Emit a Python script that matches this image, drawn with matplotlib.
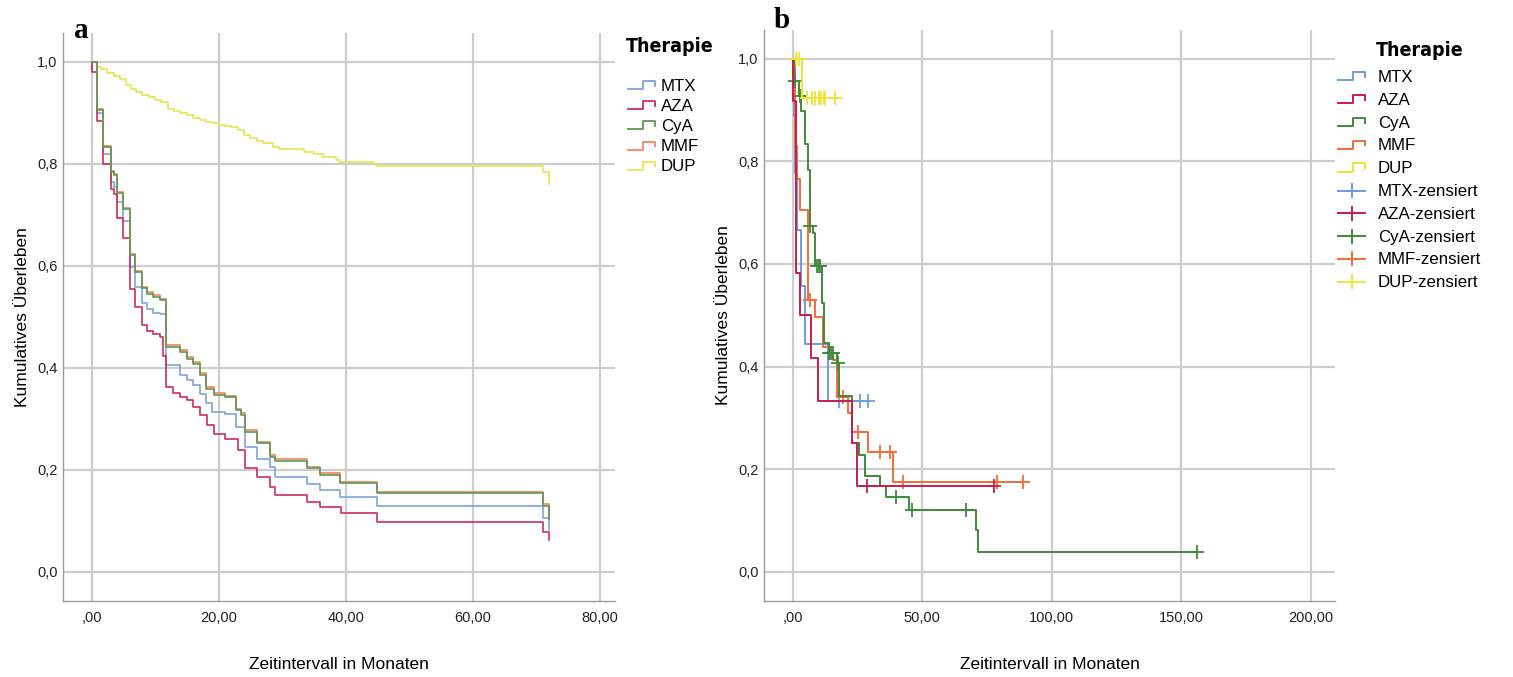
import numpy as np
import matplotlib.pyplot as plt
from matplotlib.legend_handler import HandlerBase
from matplotlib.lines import Line2D

plt.rcParams['font.family'] = ['Liberation Sans', 'DejaVu Sans']

# ---- Panel a: Kaplan-Meier, alle Therapien (Monate, kumulatives Überleben) ----
a_mmf_t = [0, 0.9, 1.85, 3.0, 3.5, 4.0, 4.9, 6.0, 6.8, 7.9, 8.7, 9.7, 10.8, 11.8, 13.9, 15.0, 16.0,
           17.0, 18.0, 19.2, 21.0, 22.8, 23.5, 24.1, 26.0, 28.1, 28.9, 33.9, 36.0, 39.1, 45.0, 71.0, 72.0]
a_mmf_s = [1.0, 0.908, 0.835, 0.786, 0.780, 0.745, 0.713, 0.623, 0.590, 0.558, 0.548, 0.542, 0.535, 0.444,
           0.434, 0.421, 0.411, 0.389, 0.362, 0.350, 0.345, 0.320, 0.311, 0.278, 0.255, 0.229, 0.221,
           0.206, 0.193, 0.177, 0.157, 0.133, 0.108]
a_cya_t = [0, 0.9, 1.85, 3.0, 3.5, 4.0, 4.9, 6.0, 6.8, 7.9, 8.7, 9.7, 10.8, 11.8, 13.9, 15.0, 16.0,
           17.0, 18.0, 19.2, 21.0, 22.8, 23.5, 24.1, 26.0, 28.1, 28.9, 33.9, 36.0, 39.1, 45.0, 71.0, 72.0]
a_cya_s = [1.0, 0.906, 0.833, 0.784, 0.778, 0.743, 0.711, 0.621, 0.588, 0.556, 0.545, 0.539, 0.532, 0.441,
           0.431, 0.418, 0.408, 0.386, 0.359, 0.347, 0.342, 0.317, 0.308, 0.275, 0.252, 0.226, 0.218,
           0.203, 0.190, 0.174, 0.154, 0.130, 0.104]
a_mtx_t = [0, 0.9, 1.85, 3.0, 3.5, 4.0, 4.9, 6.0, 6.8, 7.9, 8.7, 9.7, 10.8, 11.8, 13.9, 15.0, 16.0,
           17.0, 18.0, 18.9, 21.0, 22.8, 24.1, 26.0, 28.1, 28.9, 33.9, 36.0, 39.1, 45.0, 71.0, 72.0]
a_mtx_s = [1.0, 0.899, 0.819, 0.765, 0.755, 0.724, 0.688, 0.597, 0.558, 0.526, 0.516, 0.508, 0.505, 0.405,
           0.386, 0.376, 0.366, 0.349, 0.330, 0.314, 0.310, 0.284, 0.245, 0.222, 0.206, 0.186, 0.173,
           0.160, 0.147, 0.129, 0.105, 0.082]
a_aza_t = [0, 0.05, 0.9, 1.85, 3.0, 3.5, 4.0, 4.9, 6.0, 6.8, 7.9, 8.7, 9.7, 10.8, 11.2, 11.8, 12.9, 13.9,
           15.0, 16.0, 17.0, 18.1, 19.2, 21.0, 23.1, 24.1, 26.0, 28.1, 28.9, 33.9, 36.0, 39.2, 45.0, 71.0, 72.0]
a_aza_s = [1.0, 0.979, 0.884, 0.799, 0.750, 0.740, 0.693, 0.654, 0.555, 0.519, 0.483, 0.473, 0.467, 0.460,
           0.424, 0.362, 0.350, 0.343, 0.336, 0.323, 0.307, 0.288, 0.271, 0.261, 0.239, 0.203, 0.186,
           0.167, 0.151, 0.137, 0.128, 0.115, 0.098, 0.079, 0.063]
a_dup_t = [0, 0.9, 1.5, 2.5, 3.5, 4.5, 5.5, 6.2, 7.0, 8.0, 9.0, 10.0, 11.0, 12.0, 13.0, 14.0, 15.0, 16.0,
           17.0, 18.0, 19.0, 20.0, 21.0, 22.0, 23.0, 24.0, 25.0, 26.0, 27.0, 28.5, 29.5, 33.5, 35.0, 36.5,
           38.5, 39.0, 44.5, 45.0, 71.0, 72.0]
a_dup_s = [1.0, 0.990, 0.985, 0.978, 0.972, 0.965, 0.955, 0.946, 0.940, 0.935, 0.930, 0.925, 0.920, 0.907,
           0.903, 0.899, 0.895, 0.890, 0.885, 0.882, 0.879, 0.876, 0.874, 0.871, 0.866, 0.857, 0.851,
           0.845, 0.840, 0.833, 0.829, 0.823, 0.818, 0.813, 0.808, 0.803, 0.800, 0.796, 0.784, 0.760]

# ---- Panel b: Kaplan-Meier mit zensierten Fällen ----
b_mtx_t = [0, 0.3, 1.0, 1.7, 3.2, 4.6, 13.7]
b_mtx_s = [1.0, 0.889, 0.778, 0.667, 0.556, 0.444, 0.333]
b_mtx_c = [18.0, 26.0, 29.2]
b_mtx_end = 29.5

b_aza_t = [0, 0.1, 1.3, 2.8, 6.9, 9.9, 22.8, 24.7]
b_aza_s = [1.0, 0.917, 0.583, 0.500, 0.417, 0.333, 0.250, 0.167]
b_aza_c = [28.8, 77.5]
b_aza_end = 77.5

b_cya_t = [0, 0.3, 2.5, 3.3, 4.6, 5.9, 6.5, 7.9, 8.5, 11.2, 12.1, 13.8, 17.2, 17.7, 22.8, 25.7, 27.9,
           33.7, 35.8, 44.8, 70.8, 71.7]
b_cya_s = [1.0, 0.957, 0.927, 0.898, 0.833, 0.784, 0.674, 0.661, 0.596, 0.524, 0.446, 0.427, 0.407,
           0.342, 0.251, 0.228, 0.187, 0.168, 0.146, 0.121, 0.081, 0.038]
b_cya_c = [1.0, 2.8, 6.8, 9.4, 10.0, 10.5, 13.9, 14.8, 15.6, 17.4, 39.9, 46.0, 66.8, 156.0]
b_cya_end = 156.0

b_mmf_t = [0, 0.8, 1.7, 2.9, 6.0, 8.6, 11.8, 14.4, 15.7, 17.0, 21.5, 22.8, 29.2, 38.8]
b_mmf_s = [1.0, 0.829, 0.765, 0.706, 0.530, 0.497, 0.439, 0.427, 0.413, 0.341, 0.309, 0.273, 0.234, 0.174]
b_mmf_c = [6.8, 19.5, 25.3, 33.7, 37.6, 42.7, 78.8, 88.7]
b_mmf_end = 88.7

b_dup_t = [0, 3.6]
b_dup_s = [1.0, 0.923]
b_dup_c = [1.2, 2.2, 5.5, 7.5, 8.7, 10.0, 11.0, 11.9, 12.5, 16.4]
b_dup_end = 17.5

groups = ['MTX', 'AZA', 'CyA', 'MMF', 'DUP']
colors_a = {'MTX': '#7da4db', 'AZA': '#cc2d5c', 'CyA': '#5c9a55', 'MMF': '#f2845e', 'DUP': '#e9e34e'}
colors_b = {'MTX': '#6f9be0', 'AZA': '#c81d52', 'CyA': '#3d8a3a', 'MMF': '#f26d36', 'DUP': '#eee337'}

a_yticks = [0.0, 0.2, 0.4, 0.6, 0.8, 1.0]
a_ylabels = ['0,0', '0,2', '0,4', '0,6', '0,8', '1,0']
a_xticks = [0, 20, 40, 60, 80]
a_xlabels = [',00', '20,00', '40,00', '60,00', '80,00']
b_xticks = [0, 50, 100, 150, 200]
b_xlabels = [',00', '50,00', '100,00', '150,00', '200,00']


class KMHandler(HandlerBase):
    # step icon for survival lines, small cross for censored entries
    def create_artists(self, legend, orig_handle, xdescent, ydescent, width, height, fontsize, trans):
        x0, y0 = -xdescent, -ydescent
        c = orig_handle.get_color()
        lw = orig_handle.get_linewidth()
        if orig_handle.get_marker() == '+':
            h = Line2D([x0, x0 + width], [y0 + 0.45 * height] * 2, color=c, lw=lw, transform=trans)
            v = Line2D([x0 + 0.5 * width] * 2, [y0 - 0.15 * height, y0 + 1.05 * height],
                       color=c, lw=lw, transform=trans)
            return [h, v]
        xs = [x0, x0 + 0.55 * width, x0 + 0.55 * width, x0 + width, x0 + width]
        ys = [y0 + 0.1 * height, y0 + 0.1 * height, y0 + 0.85 * height, y0 + 0.85 * height, y0 + 0.4 * height]
        return [Line2D(xs, ys, color=c, lw=lw, transform=trans)]


def style_axes(ax, xlim, xticks, xlabels):
    ax.set_xlim(*xlim)
    ax.set_ylim(-0.057, 1.056)
    ax.set_xticks(xticks)
    ax.set_xticklabels(xlabels)
    ax.set_yticks(a_yticks)
    ax.set_yticklabels(a_ylabels)
    ax.tick_params(axis='x', length=0, labelsize=10.5, colors='#222222', pad=7)
    ax.tick_params(axis='y', length=0, labelsize=10.5, colors='#222222', pad=4)
    ax.grid(True, color='#cdcdcd', lw=1.6)
    ax.set_axisbelow(True)
    for s in ['top', 'right']:
        ax.spines[s].set_visible(False)
    for s in ['left', 'bottom']:
        ax.spines[s].set_color('#9a9a9a')
        ax.spines[s].set_linewidth(1.0)
    ax.set_xlabel('Zeitintervall in Monaten', fontsize=12.5, labelpad=23)
    ax.set_ylabel('Kumulatives Überleben', fontsize=12.5, labelpad=5)


def surv_at(t, s, x):
    return np.array(s)[np.searchsorted(t, x, side='right') - 1]


fig = plt.figure(figsize=(15.13, 6.77), dpi=100)
ax1 = fig.add_axes([0.0416, 0.1123, 0.3649, 0.8389])
ax2 = fig.add_axes([0.505, 0.1123, 0.3774, 0.8434])

# panel a
series_a = {'MTX': (a_mtx_t, a_mtx_s), 'AZA': (a_aza_t, a_aza_s), 'CyA': (a_cya_t, a_cya_s),
            'MMF': (a_mmf_t, a_mmf_s), 'DUP': (a_dup_t, a_dup_s)}
for g in ['DUP', 'MTX', 'AZA', 'MMF', 'CyA']:
    t, s = series_a[g]
    ax1.step(t, s, where='post', color=colors_a[g], lw=1.2)
handles_a = [Line2D([], [], color=colors_a[g], lw=1.3, label=g) for g in groups]
style_axes(ax1, (-4.5, 82.4), a_xticks, a_xlabels)

# panel b
series_b = {'MTX': (b_mtx_t, b_mtx_s, b_mtx_c, b_mtx_end),
            'AZA': (b_aza_t, b_aza_s, b_aza_c, b_aza_end),
            'CyA': (b_cya_t, b_cya_s, b_cya_c, b_cya_end),
            'MMF': (b_mmf_t, b_mmf_s, b_mmf_c, b_mmf_end),
            'DUP': (b_dup_t, b_dup_s, b_dup_c, b_dup_end)}
for g in ['MTX', 'MMF', 'CyA', 'AZA', 'DUP']:
    t, s, c, end = series_b[g]
    ax2.step(list(t) + [end], list(s) + [s[-1]], where='post', color=colors_b[g], lw=1.4)
    ax2.plot(c, surv_at(t, s, c), ls='none', marker='+', ms=10, mew=1.3, color=colors_b[g])
handles_b = [Line2D([], [], color=colors_b[g], lw=1.4, label=g) for g in groups]
handles_b += [Line2D([], [], color=colors_b[g], lw=1.4, marker='+', label=g + '-zensiert') for g in groups]
style_axes(ax2, (-11.1, 209.4), b_xticks, b_xlabels)

leg_kw = dict(frameon=False, loc='upper left', fontsize=12.2, handler_map={Line2D: KMHandler()},
              borderaxespad=0, borderpad=0, handleheight=0.6)
fig.legend(handles=handles_a, bbox_to_anchor=(628 / 1513, 1 - 79 / 677), handlelength=1.6,
           handletextpad=0.35, labelspacing=0.3, **leg_kw)
fig.legend(handles=handles_b, bbox_to_anchor=(1338 / 1513, 1 - 70 / 677), handlelength=1.6,
           handletextpad=0.75, labelspacing=0.46, **leg_kw)

title_kw = dict(fontsize=14, fontweight='bold', family=['DejaVu Sans'], fontstretch='condensed',
                ha='center', va='center')
fig.text(670 / 1513, 1 - 47 / 677, 'Therapie', **title_kw)
fig.text(1420 / 1513, 1 - 50 / 677, 'Therapie', **title_kw)

letter_kw = dict(fontsize=21, fontweight='bold', family=['Liberation Serif', 'DejaVu Serif'],
                 ha='center', va='center')
fig.text(81 / 1513, 1 - 31 / 677, 'a', **letter_kw)
fig.text(782 / 1513, 1 - 21 / 677, 'b', **letter_kw)

fig.savefig('out.png', dpi=100, facecolor='white')
